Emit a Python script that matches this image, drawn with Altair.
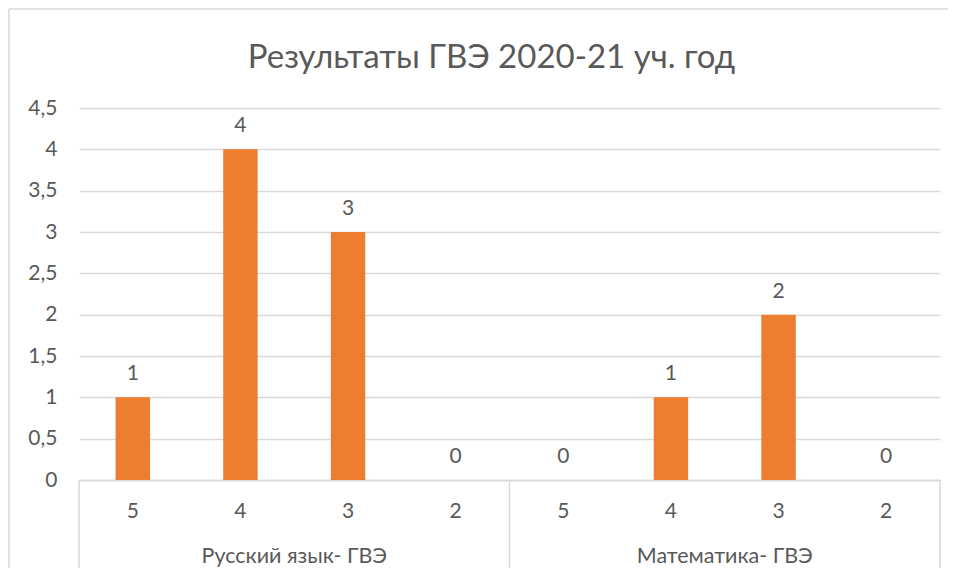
import altair as alt
import pandas as pd

subjects = ["Русский язык- ГВЭ", "Математика- ГВЭ"]
grades = ["5", "4", "3", "2"]
values_rus = [1, 4, 3, 0]
values_math = [0, 1, 2, 0]
title_text = "Результаты ГВЭ 2020-21 уч. год"

rows = []
for subj, vals in zip(subjects, [values_rus, values_math]):
    for g, v in zip(grades, vals):
        rows.append({"key": f"{subj}|{g}", "subject": subj, "grade": g, "value": v})
df = pd.DataFrame(rows)
keys = list(df["key"])

groups = pd.DataFrame({"subject": subjects, "anchor": [f"{s}|{grades[1]}" for s in subjects]})

W, H = 861, 372
STEP = W / len(keys)
FONT = "Lato"
TXT = "#595959"
GRID = "#D9D9D9"
FS = 21

xscale = alt.Scale(domain=keys, paddingInner=0.68, paddingOuter=0.34)
yscale = alt.Scale(domain=[0, 4.5], nice=False)

base = alt.Chart(df)

bars = base.mark_bar(color="#ED7D31").encode(
    x=alt.X("key:N", scale=xscale, sort=keys, title=None,
            axis=alt.Axis(labelExpr="split(datum.value, '|')[1]", labelAngle=0,
                          labelFont=FONT, labelFontSize=FS, labelColor=TXT,
                          labelPadding=20, ticks=False, domainColor=GRID, domainWidth=1.5,
                          grid=False)),
    y=alt.Y("value:Q", scale=yscale, title=None,
            axis=alt.Axis(values=[0, 0.5, 1, 1.5, 2, 2.5, 3, 3.5, 4, 4.5],
                          labelExpr="replace(format(datum.value, ''), '.', ',')",
                          labelFont=FONT, labelFontSize=FS, labelColor=TXT,
                          labelPadding=22, ticks=False, domain=False,
                          gridColor=GRID, gridWidth=1.5)),
)

labels = base.mark_text(baseline="alphabetic", dy=-17, font=FONT, fontSize=FS, color=TXT).encode(
    x=alt.X("key:N", scale=xscale, sort=keys, title=None),
    y=alt.Y("value:Q", scale=yscale, title=None),
    text=alt.Text("value:Q"),
)

group_text = alt.Chart(groups).mark_text(dx=STEP / 2, font=FONT, fontSize=21.5, color=TXT,
                                         baseline="middle").encode(
    x=alt.X("anchor:N", scale=xscale, sort=keys, title=None),
    y=alt.value(H + 77),
    text="subject:N",
)

one = pd.DataFrame({"a": [0]})
dividers = [
    alt.Chart(one).mark_rule(color=GRID, strokeWidth=1.5).encode(
        x=alt.value(p), y=alt.value(H), y2=alt.value(H + 88))
    for p in (0, W / 2, W)
]

frame_left = alt.Chart(one).mark_rule(color=GRID, strokeWidth=1.5).encode(
    x=alt.value(-70), y=alt.value(-99), y2=alt.value(H + 88))
frame_top = alt.Chart(one).mark_rule(color=GRID, strokeWidth=1.5).encode(
    x=alt.value(-70), x2=alt.value(W + 8), y=alt.value(-99))

chart = alt.layer(frame_left, frame_top, bars, labels, group_text, *dividers).properties(
    width=W, height=H, padding=0,
    title=alt.TitleParams(title_text, font=FONT, fontSize=33, fontWeight="normal",
                          color=TXT, anchor="middle", frame="group", dx=-18, offset=-67),
).configure_view(stroke=None)

chart.save("out.html", embed_options={"renderer": "svg", "actions": False})
